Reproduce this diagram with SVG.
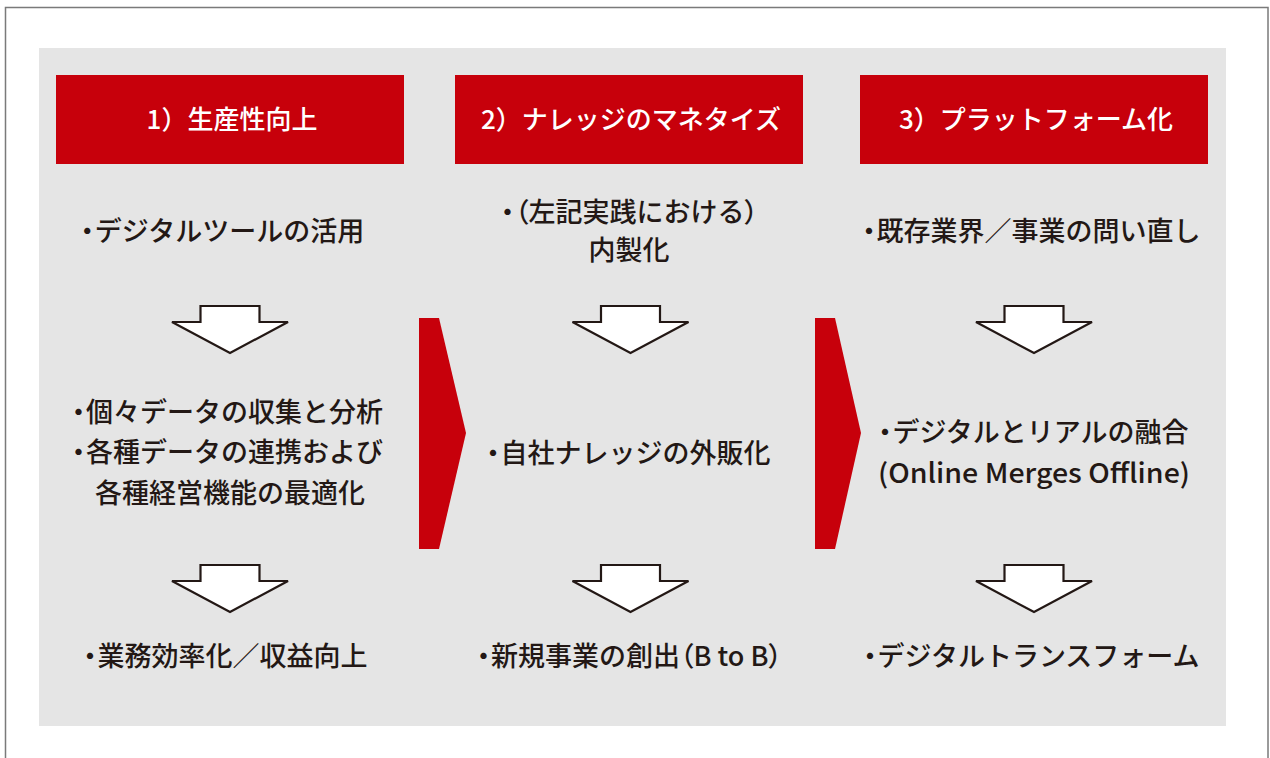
<svg xmlns="http://www.w3.org/2000/svg" width="1270" height="758" viewBox="0 0 1270 758">
<style>
.hd{fill:#c7000b}
.ht{fill:#ffffff;font-family:"Noto Sans CJK JP","Noto Sans",sans-serif;font-size:26px;font-weight:500;text-anchor:middle}
.tx{fill:#231815;font-family:"Noto Sans CJK JP","Noto Sans",sans-serif;font-size:27px;font-weight:500;text-anchor:middle}
.b{letter-spacing:-6px}
.p{font-feature-settings:"palt"}
.dn{fill:#ffffff;stroke:#231815;stroke-width:2.2;stroke-linejoin:miter}
.ch{fill:#c7000b}
</style>
<defs>
<path id="down" d="M-29.5,0 H29.5 V16 H58 L0,47 L-58,16 H-29.5 Z"/>
</defs>
<rect x="0" y="0" width="1270" height="758" fill="#ffffff"/>
<rect x="5.5" y="7.5" width="1262.5" height="760" fill="none" stroke="#7a7a7a" stroke-width="1.5"/>
<rect id="panel" x="39" y="48" width="1187" height="678" fill="#e5e5e5"/>

<g id="header1"><rect class="hd" x="56" y="75" width="348" height="89"/><text class="ht" x="232" y="129">1）生産性向上</text></g>
<g id="header2"><rect class="hd" x="455" y="75" width="348" height="89"/><text class="ht" x="631" y="129">2）ナレッジのマネタイズ</text></g>
<g id="header3"><rect class="hd" x="860" y="75" width="348" height="89"/><text class="ht" x="1036" y="129">3）プラットフォーム化</text></g>

<g id="c1t1"><text class="tx" x="219" y="241"><tspan class="b">・</tspan>デジタルツールの活用</text></g>
<g id="c1t2"><text class="tx" x="224" y="422"><tspan class="b">・</tspan>個々データの収集と分析</text><text class="tx" x="224" y="462"><tspan class="b">・</tspan>各種データの連携および</text><text class="tx" x="230" y="503">各種経営機能の最適化</text></g>
<g id="c1t3"><text class="tx" x="222" y="666"><tspan class="b">・</tspan>業務効率化／収益向上</text></g>

<g id="c2t1"><text class="tx" x="626" y="222"><tspan class="b">・</tspan><tspan class="p">（</tspan>左記実践における<tspan class="p">）</tspan></text><text class="tx" x="629" y="260">内製化</text></g>
<g id="c2t2"><text class="tx" x="625" y="463"><tspan class="b">・</tspan>自社ナレッジの外販化</text></g>
<g id="c2t3"><text class="tx" x="626" y="666"><tspan class="b">・</tspan>新規事業の創出<tspan class="p">（</tspan>B to B<tspan class="p">）</tspan></text></g>

<g id="c3t1"><text class="tx" x="1028" y="241"><tspan class="b">・</tspan>既存業界／事業の問い直し</text></g>
<g id="c3t2"><text class="tx" x="1030" y="442"><tspan class="b">・</tspan>デジタルとリアルの融合</text><text class="tx" x="1034" y="483" textLength="312" lengthAdjust="spacingAndGlyphs">(Online Merges Offline)</text></g>
<g id="c3t3"><text class="tx" x="1028" y="666"><tspan class="b">・</tspan>デジタルトランスフォーム</text></g>

<g id="connectors">
<use href="#down" class="dn" x="230" y="306"/>
<use href="#down" class="dn" x="630.5" y="306"/>
<use href="#down" class="dn" x="1034" y="306"/>
<use href="#down" class="dn" x="230" y="565"/>
<use href="#down" class="dn" x="630.5" y="565"/>
<use href="#down" class="dn" x="1034" y="565"/>
<polygon class="ch" points="419,318 439,318 466,433 439,549 419,549"/>
<polygon class="ch" points="815,318 835,318 861,433 835,549 815,549"/>
</g>
</svg>
